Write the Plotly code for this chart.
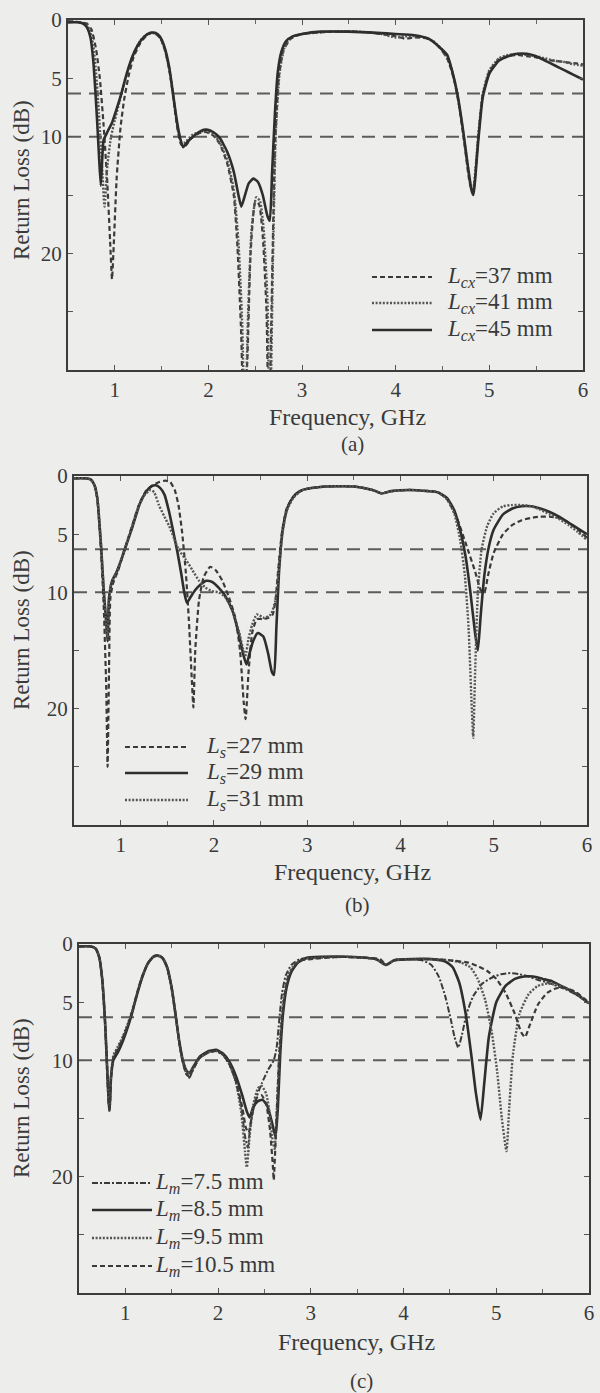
import plotly.graph_objects as go

# ---------------- data (frequency GHz, return loss dB) ----------------
F_RANGE = [0.5, 6.0]
REF_LEVELS = [6.3, 10.0]
X_TICKS = [1, 2, 3, 4, 5, 6]
Y_TICKS = [0, 5, 10, 15, 20, 25]
Y_TICKTEXT = ["0", "5", "10", "", "20", ""]

# panel (a): L_cx
A_37 = [(0.50,0.1),(0.64,0.2),(0.70,0.3),(0.75,0.8),(0.80,2.5),(0.84,5.0),(0.88,9.0),(0.92,14.0),(0.95,19.0),(0.97,22.2),(0.99,19.0),(1.02,13.5),(1.06,9.3),(1.10,6.8),(1.15,4.7),(1.20,3.2),(1.27,2.0),(1.33,1.4),(1.39,1.1),(1.44,1.2),(1.49,1.6),(1.54,2.7),(1.59,4.7),(1.63,7.0),(1.67,9.4),(1.71,10.7),(1.75,10.8),(1.82,10.1),(1.90,9.7),(1.97,9.6),(2.05,9.9),(2.12,10.6),(2.20,12.3),(2.27,15.0),(2.31,19.5),(2.35,27.0),(2.38,36),(2.42,28.0),(2.45,20.0),(2.50,15.6),(2.54,15.8),(2.58,18.5),(2.62,25.0),(2.645,36),(2.68,22.0),(2.71,11.0),(2.75,5.0),(2.80,2.6),(2.88,1.6),(3.00,1.2),(3.30,1.0),(3.60,1.0),(3.85,1.2),(4.00,1.4),(4.10,1.6),(4.20,1.5),(4.35,1.6),(4.45,2.2),(4.55,3.3),(4.62,5.0),(4.68,7.5),(4.74,11.0),(4.79,14.0),(4.825,14.8),(4.85,13.2),(4.88,10.2),(4.93,6.4),(5.00,4.4),(5.10,3.4),(5.20,3.1),(5.30,3.0),(5.40,3.1),(5.50,3.2),(5.60,3.4),(5.70,3.5),(5.80,3.6),(5.90,3.7),(6.00,3.8)]
A_41 = [(0.50,0.1),(0.62,0.2),(0.68,0.3),(0.73,0.8),(0.77,2.2),(0.80,4.5),(0.83,8.0),(0.86,12.0),(0.89,16.0),(0.92,12.5),(0.96,10.0),(1.00,8.6),(1.05,7.0),(1.10,5.4),(1.15,4.0),(1.20,2.9),(1.27,1.8),(1.33,1.3),(1.39,1.1),(1.44,1.2),(1.49,1.6),(1.54,2.7),(1.59,4.6),(1.63,6.9),(1.67,9.2),(1.71,10.5),(1.75,10.5),(1.82,9.9),(1.90,9.6),(1.97,9.5),(2.05,9.8),(2.12,10.5),(2.20,12.0),(2.27,14.5),(2.32,19.0),(2.36,26.0),(2.39,36),(2.42,26.0),(2.46,18.0),(2.51,15.2),(2.55,15.5),(2.59,18.0),(2.63,24.0),(2.655,36),(2.69,20.0),(2.72,9.5),(2.76,4.5),(2.81,2.4),(2.88,1.5),(3.00,1.2),(3.30,1.0),(3.60,1.0),(3.85,1.2),(4.00,1.5),(4.10,1.4),(4.25,1.4),(4.40,1.8),(4.50,2.6),(4.58,3.8),(4.64,5.6),(4.70,8.5),(4.76,12.0),(4.80,14.2),(4.825,14.6),(4.85,13.0),(4.88,10.0),(4.93,6.3),(5.00,4.3),(5.10,3.3),(5.20,3.0),(5.30,2.9),(5.40,3.0),(5.50,3.1),(5.60,3.3),(5.70,3.5),(5.80,3.6),(5.90,3.8),(6.00,3.9)]
A_45 = [(0.50,0.2),(0.60,0.2),(0.66,0.3),(0.70,0.6),(0.74,1.5),(0.77,3.5),(0.79,5.8),(0.81,8.5),(0.83,11.5),(0.85,14.2),(0.865,12.0),(0.88,10.3),(0.92,9.6),(0.97,8.8),(1.02,7.6),(1.07,6.3),(1.12,4.8),(1.18,3.3),(1.25,2.1),(1.32,1.4),(1.38,1.1),(1.43,1.1),(1.48,1.4),(1.53,2.3),(1.58,4.0),(1.62,6.2),(1.66,8.5),(1.70,10.2),(1.73,10.9),(1.77,10.5),(1.85,9.9),(1.92,9.5),(1.98,9.4),(2.05,9.6),(2.12,10.1),(2.20,11.3),(2.27,13.0),(2.32,15.0),(2.35,16.0),(2.38,15.3),(2.43,14.0),(2.48,13.6),(2.53,13.9),(2.58,15.0),(2.63,16.8),(2.655,17.2),(2.68,13.0),(2.71,8.0),(2.74,4.5),(2.78,2.7),(2.83,1.8),(2.90,1.4),(3.00,1.2),(3.20,1.0),(3.50,1.0),(3.80,1.1),(4.00,1.2),(4.20,1.3),(4.35,1.6),(4.45,2.2),(4.55,3.0),(4.60,4.3),(4.66,6.4),(4.72,9.5),(4.77,12.5),(4.81,14.6),(4.83,15.0),(4.85,13.5),(4.88,10.5),(4.93,6.6),(5.00,4.6),(5.10,3.5),(5.20,3.1),(5.30,2.9),(5.40,2.9),(5.50,3.1),(5.60,3.5),(5.70,3.9),(5.80,4.3),(5.90,4.7),(6.00,5.1)]

# panel (b): L_s
B_27 = [(0.50,0.2),(0.62,0.2),(0.68,0.3),(0.72,0.8),(0.75,2.0),(0.79,6.5),(0.82,11.5),(0.845,18.0),(0.86,25.0),(0.875,17.0),(0.89,10.5),(0.92,9.2),(0.97,8.2),(1.02,6.9),(1.07,5.6),(1.13,4.1),(1.20,2.4),(1.27,1.3),(1.34,0.8),(1.42,0.5),(1.48,0.4),(1.53,0.5),(1.58,1.2),(1.62,2.5),(1.66,4.9),(1.70,8.4),(1.73,12.2),(1.76,17.0),(1.78,19.9),(1.80,15.0),(1.84,10.7),(1.89,8.7),(1.96,7.8),(2.02,8.1),(2.09,9.0),(2.16,10.4),(2.23,12.2),(2.28,15.0),(2.32,19.5),(2.34,20.9),(2.37,17.0),(2.41,13.5),(2.46,12.3),(2.52,12.3),(2.58,12.2),(2.63,11.9),(2.66,10.7),(2.69,8.0),(2.73,4.8),(2.78,2.8),(2.85,1.8),(2.93,1.3),(3.00,1.1),(3.20,0.9),(3.50,0.9),(3.70,1.2),(3.80,1.5),(3.90,1.3),(4.10,1.2),(4.30,1.3),(4.40,1.4),(4.50,2.0),(4.60,3.5),(4.70,5.8),(4.80,8.2),(4.86,9.8),(4.90,10.0),(4.94,8.5),(5.00,6.6),(5.10,5.0),(5.20,4.2),(5.30,3.8),(5.40,3.6),(5.50,3.5),(5.60,3.5),(5.70,3.6),(5.80,4.0),(5.90,4.6),(6.00,5.3)]
B_29 = [(0.50,0.2),(0.62,0.2),(0.68,0.3),(0.72,0.8),(0.75,1.9),(0.79,6.0),(0.82,10.0),(0.845,12.5),(0.86,14.2),(0.875,10.5),(0.91,9.0),(0.96,8.2),(1.02,6.9),(1.07,5.7),(1.13,4.3),(1.20,2.5),(1.27,1.4),(1.33,0.9),(1.375,0.8),(1.42,1.0),(1.47,1.6),(1.52,3.1),(1.57,5.0),(1.61,6.6),(1.65,8.4),(1.68,9.9),(1.71,10.9),(1.75,10.4),(1.80,9.8),(1.86,9.3),(1.92,9.0),(1.98,9.1),(2.05,9.6),(2.12,10.3),(2.20,11.6),(2.27,13.7),(2.32,15.5),(2.35,16.2),(2.38,15.3),(2.42,14.2),(2.47,13.5),(2.53,13.8),(2.58,15.2),(2.62,16.8),(2.645,17.1),(2.67,13.0),(2.70,8.0),(2.74,4.5),(2.79,2.7),(2.85,1.8),(2.92,1.3),(3.00,1.1),(3.20,0.9),(3.50,0.9),(3.70,1.2),(3.80,1.5),(3.90,1.3),(4.10,1.2),(4.30,1.3),(4.40,1.4),(4.50,1.9),(4.58,3.0),(4.65,5.0),(4.70,7.0),(4.75,10.0),(4.80,13.5),(4.83,15.0),(4.86,12.0),(4.90,8.5),(4.95,6.0),(5.00,4.6),(5.10,3.3),(5.20,2.8),(5.30,2.6),(5.40,2.6),(5.50,2.8),(5.60,3.1),(5.70,3.5),(5.80,4.0),(5.90,4.5),(6.00,5.0)]
B_31 = [(0.50,0.2),(0.62,0.2),(0.68,0.3),(0.72,0.8),(0.75,1.9),(0.79,6.0),(0.82,10.0),(0.845,12.8),(0.86,14.0),(0.875,10.8),(0.90,9.2),(0.95,8.4),(1.00,7.3),(1.06,5.9),(1.12,4.4),(1.18,2.9),(1.25,1.7),(1.32,1.2),(1.36,1.4),(1.41,2.5),(1.47,3.5),(1.52,4.3),(1.57,5.3),(1.62,6.3),(1.70,7.2),(1.77,8.1),(1.84,9.0),(1.91,9.6),(1.98,9.9),(2.05,10.0),(2.12,10.4),(2.20,11.6),(2.27,13.4),(2.31,14.8),(2.34,15.4),(2.37,14.0),(2.41,12.8),(2.46,11.9),(2.54,12.2),(2.61,11.9),(2.66,10.7),(2.69,8.5),(2.73,5.2),(2.78,3.0),(2.85,1.9),(2.93,1.3),(3.00,1.1),(3.20,0.9),(3.50,0.9),(3.70,1.2),(3.80,1.5),(3.90,1.3),(4.10,1.2),(4.30,1.3),(4.40,1.4),(4.50,2.0),(4.58,3.3),(4.64,5.5),(4.69,8.5),(4.73,13.0),(4.76,19.0),(4.78,22.5),(4.80,17.0),(4.83,10.0),(4.87,6.3),(4.93,4.3),(5.00,3.2),(5.10,2.6),(5.20,2.5),(5.30,2.5),(5.40,2.6),(5.50,2.9),(5.60,3.3),(5.70,3.7),(5.80,4.2),(5.90,4.8),(6.00,5.5)]

# panel (c): L_m
C_75 = [(0.50,0.2),(0.62,0.2),(0.68,0.4),(0.72,1.2),(0.75,3.0),(0.78,6.5),(0.80,10.0),(0.82,13.3),(0.83,14.0),(0.845,11.3),(0.87,9.8),(0.92,9.0),(0.97,8.2),(1.02,7.2),(1.07,6.0),(1.12,4.5),(1.18,2.9),(1.24,1.7),(1.30,1.1),(1.35,1.0),(1.40,1.2),(1.45,2.0),(1.50,3.8),(1.54,6.0),(1.58,8.4),(1.62,10.2),(1.66,11.2),(1.69,11.5),(1.73,10.8),(1.80,9.8),(1.90,9.3),(1.98,9.2),(2.05,9.5),(2.12,10.3),(2.19,11.8),(2.25,14.0),(2.29,16.5),(2.32,17.5),(2.35,15.5),(2.40,13.5),(2.47,12.0),(2.54,10.8),(2.60,10.0),(2.63,9.0),(2.66,6.5),(2.69,4.2),(2.73,2.7),(2.79,1.8),(2.88,1.3),(3.00,1.2),(3.30,1.1),(3.60,1.2),(3.75,1.4),(3.81,1.8),(3.90,1.4),(4.05,1.3),(4.20,1.4),(4.30,1.8),(4.38,2.8),(4.45,4.5),(4.51,6.5),(4.55,8.0),(4.59,8.9),(4.63,7.8),(4.68,6.0),(4.75,4.5),(4.85,3.4),(4.95,2.9),(5.05,2.6),(5.15,2.5),(5.25,2.6),(5.35,2.8),(5.45,3.1),(5.55,3.3),(5.65,3.6),(5.75,3.9),(5.85,4.3),(5.95,4.8),(6.00,5.2)]
C_85 = [(0.50,0.2),(0.62,0.2),(0.68,0.4),(0.72,1.2),(0.75,3.0),(0.78,6.5),(0.80,10.0),(0.82,13.5),(0.83,14.3),(0.845,11.5),(0.87,10.0),(0.92,9.3),(0.97,8.4),(1.02,7.3),(1.07,6.0),(1.12,4.5),(1.18,2.9),(1.24,1.7),(1.30,1.1),(1.35,1.0),(1.40,1.2),(1.45,2.0),(1.50,3.8),(1.54,6.0),(1.58,8.3),(1.62,10.0),(1.66,10.9),(1.69,11.1),(1.73,10.6),(1.80,9.7),(1.90,9.2),(1.98,9.1),(2.05,9.4),(2.12,10.1),(2.19,11.3),(2.26,13.0),(2.31,14.4),(2.34,14.9),(2.38,14.0),(2.43,13.5),(2.48,13.4),(2.53,13.9),(2.58,15.3),(2.62,16.6),(2.645,14.0),(2.67,9.5),(2.70,6.0),(2.74,3.7),(2.79,2.4),(2.86,1.6),(2.95,1.2),(3.10,1.1),(3.40,1.1),(3.70,1.3),(3.81,1.8),(3.90,1.4),(4.10,1.3),(4.30,1.3),(4.45,1.5),(4.53,2.0),(4.60,3.3),(4.67,6.0),(4.73,9.5),(4.78,12.8),(4.83,15.1),(4.87,12.0),(4.92,8.0),(5.00,5.0),(5.10,3.6),(5.20,3.0),(5.30,2.8),(5.40,2.8),(5.50,3.0),(5.60,3.2),(5.70,3.6),(5.80,4.0),(5.90,4.5),(6.00,5.1)]
C_95 = [(0.50,0.2),(0.62,0.2),(0.68,0.4),(0.72,1.2),(0.75,3.0),(0.78,6.6),(0.80,10.2),(0.82,13.6),(0.83,14.2),(0.845,11.4),(0.87,9.6),(0.92,8.8),(0.97,8.0),(1.02,7.0),(1.07,5.8),(1.12,4.4),(1.18,2.8),(1.24,1.7),(1.30,1.1),(1.35,1.0),(1.40,1.2),(1.45,2.0),(1.50,3.8),(1.54,6.0),(1.58,8.4),(1.62,10.1),(1.66,11.0),(1.69,11.2),(1.73,10.7),(1.80,9.8),(1.90,9.3),(1.98,9.2),(2.05,9.5),(2.12,10.3),(2.19,11.8),(2.25,14.5),(2.29,17.8),(2.31,19.2),(2.34,16.5),(2.38,13.8),(2.43,12.4),(2.47,12.2),(2.52,12.9),(2.56,14.8),(2.59,17.0),(2.61,17.6),(2.64,13.0),(2.67,8.0),(2.71,4.5),(2.76,2.6),(2.83,1.7),(2.92,1.3),(3.05,1.2),(3.40,1.1),(3.70,1.3),(3.81,1.8),(3.90,1.4),(4.10,1.3),(4.30,1.3),(4.50,1.4),(4.62,1.6),(4.72,2.0),(4.80,3.0),(4.88,4.8),(4.95,7.5),(5.01,11.0),(5.06,15.0),(5.11,17.8),(5.14,14.0),(5.18,9.5),(5.25,6.0),(5.35,4.3),(5.45,3.6),(5.55,3.4),(5.65,3.5),(5.75,3.8),(5.85,4.2),(5.95,4.8),(6.00,5.1)]
C_105 = [(0.50,0.2),(0.62,0.2),(0.68,0.4),(0.72,1.2),(0.75,3.0),(0.78,6.6),(0.80,10.2),(0.82,13.8),(0.83,14.4),(0.845,11.6),(0.87,9.8),(0.92,9.0),(0.97,8.1),(1.02,7.1),(1.07,5.9),(1.12,4.4),(1.18,2.8),(1.24,1.7),(1.30,1.1),(1.35,1.0),(1.40,1.2),(1.45,2.0),(1.50,3.8),(1.54,6.0),(1.58,8.4),(1.62,10.2),(1.66,11.2),(1.69,11.4),(1.73,10.8),(1.80,9.8),(1.90,9.3),(1.98,9.2),(2.05,9.5),(2.12,10.3),(2.19,11.7),(2.26,14.0),(2.30,15.8),(2.33,16.2),(2.37,14.5),(2.42,13.2),(2.47,13.0),(2.52,13.8),(2.56,16.0),(2.59,19.0),(2.60,20.3),(2.63,15.0),(2.66,9.5),(2.70,5.5),(2.75,3.0),(2.82,1.9),(2.90,1.4),(3.00,1.3),(3.30,1.1),(3.60,1.2),(3.75,1.3),(3.81,1.8),(3.90,1.4),(4.10,1.3),(4.30,1.3),(4.50,1.4),(4.70,1.6),(4.80,1.9),(4.90,2.3),(5.00,3.0),(5.10,4.2),(5.20,6.0),(5.27,7.6),(5.31,8.0),(5.36,7.0),(5.45,5.2),(5.55,4.2),(5.65,3.8),(5.75,3.8),(5.85,4.1),(5.95,4.7),(6.00,5.1)]

# ---------------- styling ----------------
W, H = 600, 1393
FONT = "Liberation Serif"
TXT = "#3a3a3a"
BG = "#edeeec"

STYLES = {
    "solid": dict(color="#2e2e2e", width=2.6, dash="solid"),
    "dash": dict(color="#3a3a3a", width=2.2, dash="5px,3px"),
    "dot": dict(color="#555555", width=2.4, dash="2px,1.6px"),
    "dashdot": dict(color="#3a3a3a", width=2.0, dash="6px,2px,2px,2px"),
}

def fx(p):
    return p / W

def fy(p):
    return 1 - p / H

# panel boxes in pixels: (left, right, top, bottom)
BOXES = [(68, 583, 20, 370), (74, 587, 476, 825), (79, 589, 944, 1293)]

PANELS = [
    dict(series=[("<i>L<sub>cx</sub></i>=37 mm", A_37, "dash"),
                 ("<i>L<sub>cx</sub></i>=41 mm", A_41, "dot"),
                 ("<i>L<sub>cx</sub></i>=45 mm", A_45, "solid")],
         leg_rows=[277, 303, 330], leg_line=(372, 432), leg_text=445,
         caption="(a)", title_y=417, cap_y=444, ytitle_y=180),
    dict(series=[("<i>L<sub>s</sub></i>=27 mm", B_27, "dash"),
                 ("<i>L<sub>s</sub></i>=29 mm", B_29, "solid"),
                 ("<i>L<sub>s</sub></i>=31 mm", B_31, "dot")],
         leg_rows=[747, 773, 800], leg_line=(125, 188), leg_text=204,
         caption="(b)", title_y=872, cap_y=905, ytitle_y=630),
    dict(series=[("<i>L<sub>m</sub></i>=7.5 mm", C_75, "dashdot"),
                 ("<i>L<sub>m</sub></i>=8.5 mm", C_85, "solid"),
                 ("<i>L<sub>m</sub></i>=9.5 mm", C_95, "dot"),
                 ("<i>L<sub>m</sub></i>=10.5 mm", C_105, "dash")],
         leg_rows=[1183, 1210, 1238, 1266], leg_line=(92, 152), leg_text=153,
         caption="(c)", title_y=1342, cap_y=1381, ytitle_y=1098),
]

fig = go.Figure()
annotations = []
shapes = []
layout = {}

for i, (panel, box) in enumerate(zip(PANELS, BOXES)):
    n = "" if i == 0 else str(i + 1)
    xa, ya = "x" + n, "y" + n
    l, r, t, b = box
    for lvl in REF_LEVELS:
        fig.add_trace(go.Scatter(x=F_RANGE, y=[lvl, lvl], mode="lines",
                                 line=dict(color="#5c5c5c", width=2, dash="13px,8px"),
                                 showlegend=False, hoverinfo="skip",
                                 xaxis=xa, yaxis=ya))
    for (name, pts, sty), row in zip(panel["series"], panel["leg_rows"]):
        fig.add_trace(go.Scatter(x=[p[0] for p in pts], y=[p[1] for p in pts],
                                 mode="lines", name=name, showlegend=False,
                                 line=dict(shape="spline", smoothing=0.5, **STYLES[sty]),
                                 xaxis=xa, yaxis=ya))
        # legend entry (sample line + label)
        x0, x1 = panel["leg_line"]
        shapes.append(dict(type="line", xref="paper", yref="paper",
                           x0=fx(x0), x1=fx(x1), y0=fy(row), y1=fy(row),
                           line=STYLES[sty]))
        annotations.append(dict(text=name, x=fx(panel["leg_text"]), y=fy(row),
                                xref="paper", yref="paper", showarrow=False,
                                xanchor="left", yanchor="middle",
                                font=dict(family=FONT, size=23, color=TXT)))
    axis_common = dict(showline=True, linecolor="#3c3c3c", linewidth=2, mirror="ticks",
                       ticks="inside", ticklen=5, tickcolor="#555555", showgrid=False,
                       zeroline=False, automargin=False,
                       tickfont=dict(family=FONT, size=21, color=TXT))
    layout["xaxis" + n] = dict(domain=[fx(l), fx(r)], range=F_RANGE, anchor=ya,
                               tickvals=X_TICKS,
                               minor=dict(dtick=0.5, tick0=0.5, ticks="inside", ticklen=4,
                                          tickcolor="#666666", showgrid=False),
                               **axis_common)
    layout["yaxis" + n] = dict(domain=[fy(b), fy(t)], range=[30, 0], anchor=xa,
                               tickvals=Y_TICKS, ticktext=Y_TICKTEXT, **axis_common)
    cx = (l + r) / 2 + 22
    annotations.append(dict(text="Frequency, GHz", x=fx(cx), y=fy(panel["title_y"]),
                            xref="paper", yref="paper", showarrow=False,
                            xanchor="center", yanchor="middle",
                            font=dict(family=FONT, size=24, color=TXT)))
    annotations.append(dict(text=panel["caption"], x=fx(cx + 5), y=fy(panel["cap_y"]),
                            xref="paper", yref="paper", showarrow=False,
                            xanchor="center", yanchor="middle",
                            font=dict(family=FONT, size=21, color=TXT)))
    annotations.append(dict(text="Return Loss (dB)", x=fx(21), y=fy(panel["ytitle_y"]),
                            xref="paper", yref="paper", showarrow=False, textangle=-90,
                            xanchor="center", yanchor="middle",
                            font=dict(family=FONT, size=23, color=TXT)))

fig.update_layout(width=W, height=H, autosize=False,
                  margin=dict(l=0, r=0, t=0, b=0, pad=0),
                  paper_bgcolor=BG, plot_bgcolor=BG, showlegend=False,
                  annotations=annotations, shapes=shapes, **layout)

fig.write_html("out.html")
